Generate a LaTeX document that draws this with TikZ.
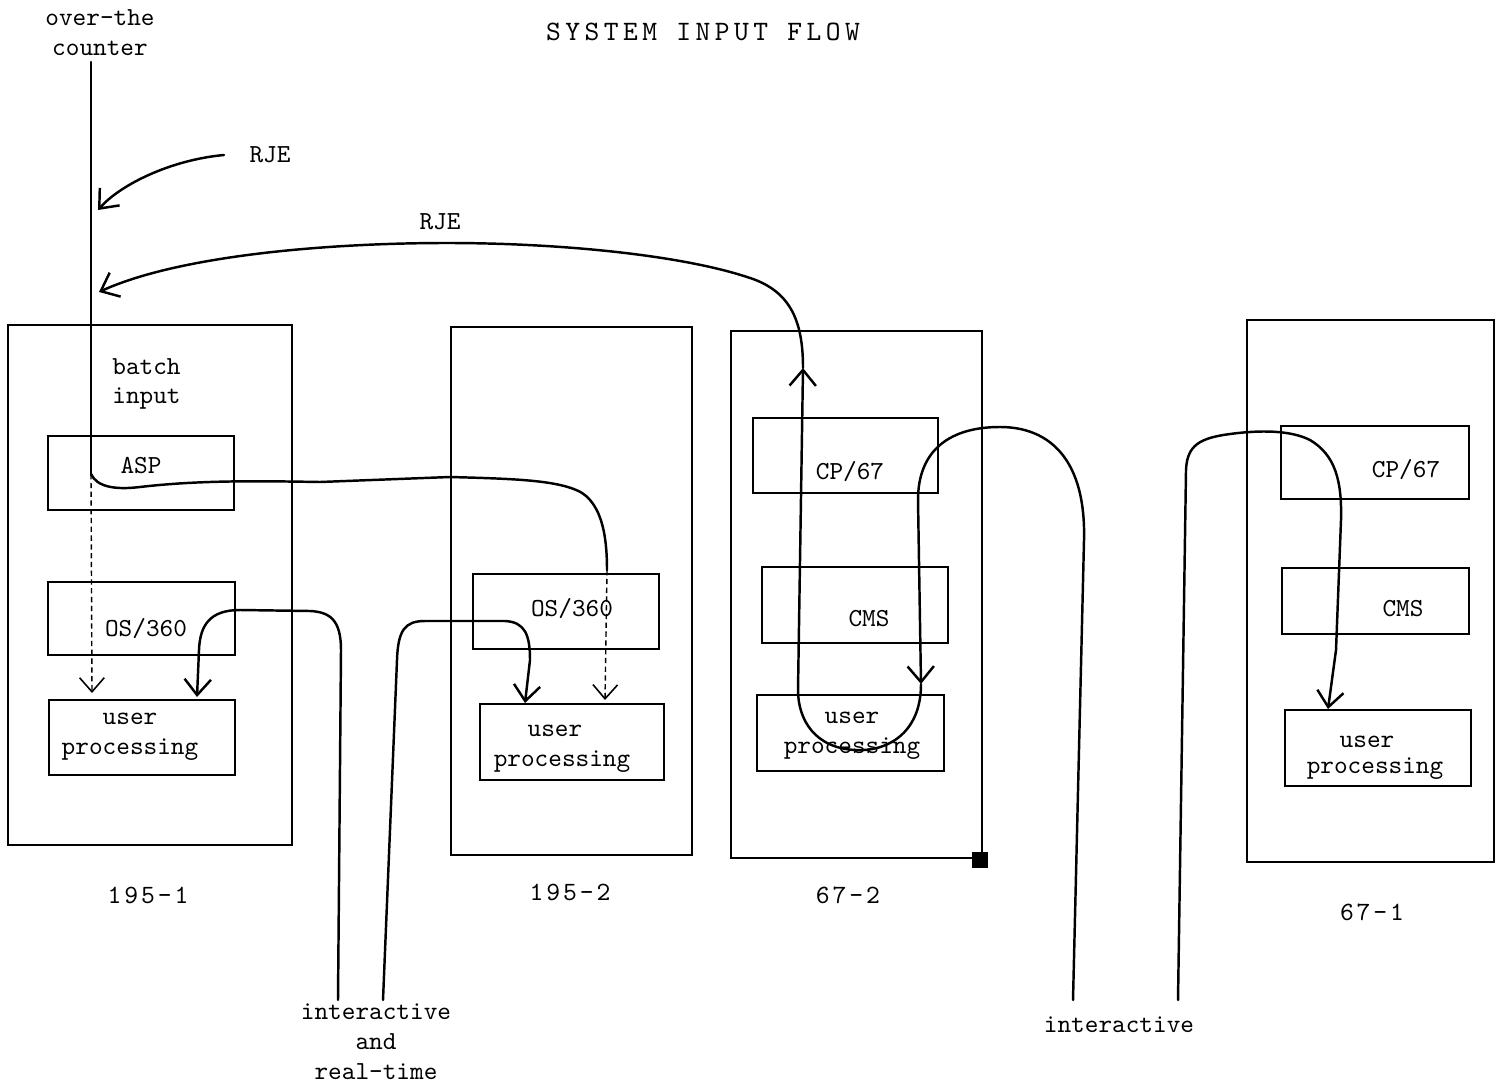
\documentclass[tikz,border=0pt]{standalone}
\usepackage{fontspec}
\newfontfamily\tw{lmmono10-regular.otf}
\newfontfamily\twsp{lmmono10-regular.otf}[LetterSpace=11]
\newfontfamily\twtl{lmmono10-regular.otf}[LetterSpace=16]
\usetikzlibrary{arrows.meta,fit}
\begin{document}
\begin{tikzpicture}[x=0.02cm,y=-0.02cm,
  frame/.style={draw, line width=1.2pt, inner sep=0pt},
  box/.style={draw, line width=1.1pt, inner sep=0pt},
  lbl/.style={font=\tw\fontsize{14.8}{17}\selectfont, align=center, inner sep=0pt},
  num/.style={font=\twsp\fontsize{15}{17}\selectfont, inner sep=0pt},
  ttl/.style={font=\twtl\fontsize{16}{18}\selectfont, inner sep=0pt},
  flow/.style={line width=1.4pt, line cap=round, line join=round},
  faint/.style={line width=0.8pt, densely dashed},
  tip/.style={-{Straight Barb[length=9pt,width=15pt]}},
  thintip/.style={-{Straight Barb[length=8pt,width=14pt,line width=0.9pt]}},
]
\useasboundingbox (0,0) rectangle (1506,1087);

% title and free labels
\node[ttl] (title) at (703,32) {SYSTEM INPUT FLOW};
\node[lbl] (otc) at (100,33) {over-the\\counter};
\node[lbl] (rje1) at (270,155) {RJE};
\node[lbl] (rje2) at (440,222) {RJE};

% machine frames
\node[frame, fit={(8,325) (292,845)}] (m1) {};
\node[frame, fit={(451,327) (692,855)}] (m2) {};
\node[frame, fit={(731,331) (982,858)}] (m3) {};
\node[frame, fit={(1247,320) (1494,862)}] (m4) {};
\node[fill, minimum size=9pt, inner sep=0pt] (corner) at (980,860) {};

% 195-1
\node[lbl, anchor=west] (batch) at (112,384) {batch\\input};
\node[box, fit={(48,436) (234,510)}] (asp) {};
\node[lbl] (asptxt) at (141,466) {ASP};
\node[box, fit={(48,582) (235,655)}] (os1) {};
\node[lbl] (os1txt) at (146,629) {OS/360};
\node[box, fit={(49,700) (235,775)}] (up1) {};
\node[lbl] (up1txt) at (130,737) {user\\processing};
\node[num] (n1) at (148,895) {195-1};

% 195-2
\node[box, fit={(473,574) (659,649)}] (os2) {};
\node[lbl] (os2txt) at (572,609) {OS/360};
\node[box, fit={(480,704) (664,780)}] (up2) {};
\node[lbl] (up2txt) at (562,749) {\hspace*{-8pt}user\\processing};
\node[num] (n2) at (570,892) {195-2};

% 67-2
\node[box, fit={(753,418) (938,493)}] (cp2) {};
\node[lbl] (cp2txt) at (850,472) {CP/67};
\node[box, fit={(762,567) (948,643)}] (cms2) {};
\node[lbl] (cms2txt) at (869,619) {CMS};
\node[box, fit={(757,695) (944,771)}] (up3) {};
\node[lbl] (up3txt) at (852,736) {user\\processing};
\node[num] (n3) at (848,895) {67-2};

% 67-1
\node[box, fit={(1281,426) (1469,499)}] (cp1) {};
\node[lbl] (cp1txt) at (1406,470) {CP/67};
\node[box, fit={(1282,568) (1469,634)}] (cms1) {};
\node[lbl] (cms1txt) at (1403,609) {CMS};
\node[box, fit={(1285,710) (1471,786)}] (up4) {};
\node[lbl, anchor=base] (up4a) at (1367,747) {user};
\node[lbl, anchor=base] (up4b) at (1375,773) {processing};
\node[num] (n4) at (1372,912) {67-1};

% bottom labels
\node[lbl] (iart) at (376,1042) {interactive\\and\\real-time};
\node[lbl] (ia) at (1119,1025) {interactive};

% named connector ends
\coordinate (otctop) at (91,62);
\coordinate (branch) at (91,474);
\coordinate (otcend) at (92,693);
\coordinate (rjeA) at (224,155);
\coordinate (rjeAend) at (98,210);
\coordinate (rjeBend) at (99,292);
\coordinate (up3in) at (921,684);
\coordinate (up3out) at (803,368);
\coordinate (aspend) at (605,700);
\coordinate (os1in) at (197,697);
\coordinate (os2in) at (525,703);
\coordinate (up4in) at (1328,709);
\coordinate (b1) at (338,1000);
\coordinate (b2) at (383,1000);
\coordinate (b3) at (1073,1000);
\coordinate (b4) at (1178,1000);

% over-the-counter input
\draw[flow] (otctop) -- (branch);
\draw[faint, thintip] (branch) -- (otcend);

% short RJE
\draw[flow, tip] (rjeA) .. controls (170,160) and (120,185) .. (rjeAend);

% ASP to 195-2 user processing
\draw[flow] (branch) .. controls (97,487) and (115,490) .. (140,487)
  .. controls (200,480) and (260,481) .. (320,482) -- (450,477)
  .. controls (520,479) and (575,480) .. (590,500)
  .. controls (603,515) and (607,540) .. (607,570);
\draw[faint, thintip] (607,570) -- (aspend);

% interactive into 195-1
\draw[flow, tip] (b1) -- (341,650) .. controls (341,620) and (330,612) .. (310,611)
  -- (240,610) .. controls (210,610) and (200,625) .. (199,650) -- (os1in);

% real-time into 195-2
\draw[flow, tip] (b2) -- (397,660) .. controls (398,630) and (405,621) .. (425,621)
  -- (505,621) .. controls (525,622) and (530,635) .. (530,660) -- (os2in);

% interactive into 67-2
\draw[flow, tip] (b3) -- (1084,540) .. controls (1086,460) and (1050,427) .. (1000,427)
  .. controls (950,427) and (918,450) .. (918,500) -- (up3in);
\draw[flow, tip] (up3in) .. controls (921,735) and (885,752) .. (855,750)
  .. controls (815,748) and (798,720) .. (798,690) -- (up3out);
\draw[flow, tip] (up3out) .. controls (803,320) and (790,290) .. (747,277)
  .. controls (680,255) and (560,243) .. (447,243)
  .. controls (330,243) and (180,255) .. (rjeBend);

% interactive into 67-1
\draw[flow, tip] (b4) -- (1186,470) .. controls (1187,445) and (1200,438) .. (1230,434)
  .. controls (1260,430) and (1290,430) .. (1310,440)
  .. controls (1335,455) and (1342,480) .. (1341,520) -- (1336,650) -- (up4in);
\end{tikzpicture}
\end{document}
